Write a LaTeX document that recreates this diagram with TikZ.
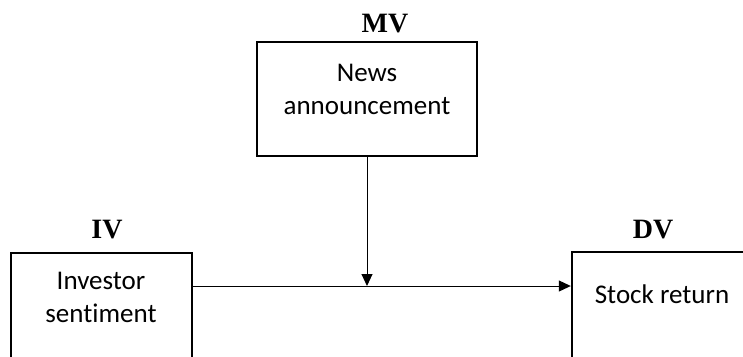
\documentclass[tikz,border=0pt]{standalone}
\usepackage{fontspec}
\setmainfont{Carlito}[Ligatures=NoCommon]
\newfontfamily\labelfont{Liberation Serif}
\usetikzlibrary{arrows.meta}
\tikzset{
  varbox/.style={draw=black, line width=2.4pt, rectangle, inner sep=0pt},
  boxtext/.style={font=\fontsize{27}{33}\selectfont, align=center, anchor=base, inner sep=0pt},
  varlabel/.style={font=\labelfont\bfseries\fontsize{28}{32}\selectfont, anchor=base, inner sep=0pt},
  arr/.style={line width=1pt, -{Triangle[length=12pt,width=11pt]}}
}
\begin{document}
\begin{tikzpicture}[x=1pt,y=-1pt]
\clip (0,0) rectangle (743,356);
\fill[white] (0,0) rectangle (743,356);
% boxes
\node[varbox, minimum width=220pt, minimum height=114pt] (mv) at (367,99) {};
\node[varbox, minimum width=181pt, minimum height=150pt] (iv) at (101.5,328) {};
\node[varbox, minimum width=180pt, minimum height=150pt] (dv) at (662,327) {};
% texts
\node[boxtext] (mvt) at (367,114) {News\\announcement};
\node[boxtext] (ivt) at (101,322) {Investor\\sentiment};
\node[boxtext] (dvt) at (662,303) {Stock return};
% labels
\node[varlabel] (mvl) at (385,32) {MV};
\node[varlabel] (ivl) at (107,238) {IV};
\node[varlabel] (dvl) at (653,238) {DV};
% connectors
\coordinate (j) at (367,286);
\draw[arr] (iv.east |- j) -- (dv.west |- j);
\draw[arr] (mv.south) -- (j);
\end{tikzpicture}
\end{document}
